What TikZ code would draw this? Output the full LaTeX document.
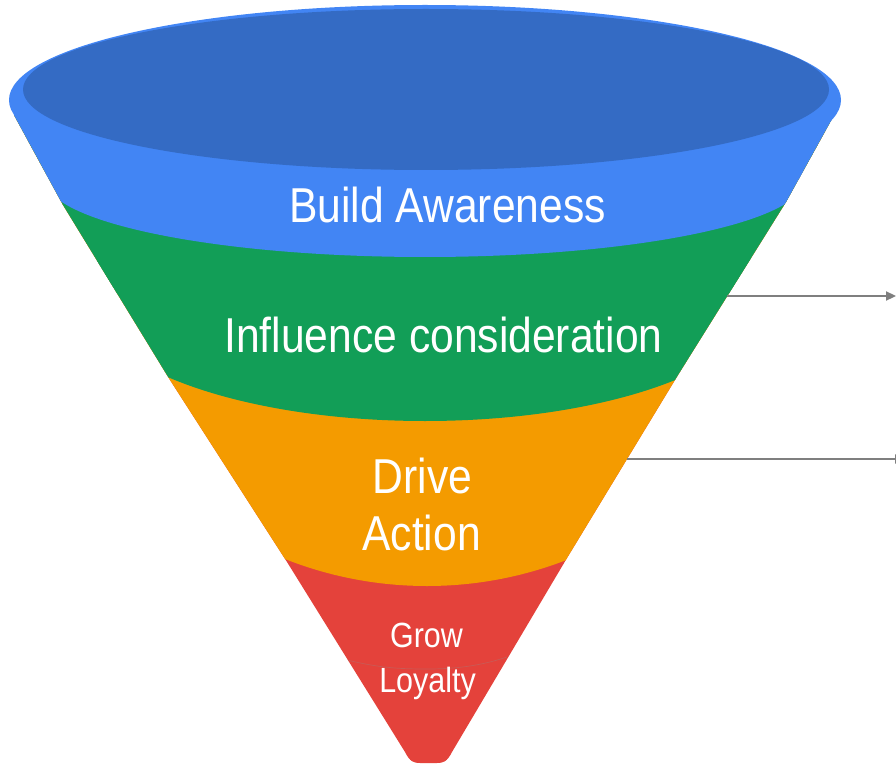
\documentclass[tikz,border=0pt]{standalone}
\usepackage{fontspec}
\newfontfamily\funfont[FakeStretch=0.87]{Liberation Sans}
\usetikzlibrary{arrows.meta}
\definecolor{gblue}{HTML}{4285F4}
\definecolor{gdark}{HTML}{346BC4}
\definecolor{ggreen}{HTML}{129E57}
\definecolor{gorange}{HTML}{F49B00}
\definecolor{gred}{HTML}{E4423B}
\definecolor{arrgray}{HTML}{7F7F7F}
\definecolor{seamc}{HTML}{C95A55}
\tikzset{
  biglbl/.style={text=white, inner sep=0pt, anchor=base, font=\funfont\fontsize{49}{55}\selectfont},
  smalllbl/.style={text=white, inner sep=0pt, anchor=base, font=\funfont\fontsize{35}{40}\selectfont},
  pointer/.style={draw=arrgray, line width=2.2pt, -{Triangle[length=10pt,width=9pt]}},
  seam/.style={draw=seamc, line width=0.7pt}
}
\begin{document}
\begin{tikzpicture}[x=1pt,y=-1pt]
\useasboundingbox (0,0) rectangle (896,767);
% funnel body, bands from bottom to top
\begin{scope}
  \clip (14,115) -- (63,205) -- (170,380) -- (287,562) -- (405,752)
    .. controls (410,762) and (414,763) .. (420,763) -- (437,763)
    .. controls (443,763) and (447,762) .. (452,752)
    -- (567,558) -- (678,375) -- (786,202) -- (833,117) -- (833,106) -- (14,106) -- cycle;
  \fill[gred] (0,0) rectangle (896,767);
  \fill[gorange] (0,0) rectangle (896,170);
  \fill[gorange] (427,170) ellipse [x radius=400, y radius=416];
  \fill[ggreen] (0,0) rectangle (896,294);
  \fill[ggreen] (425,294) ellipse [x radius=340, y radius=127];
  \fill[gblue] (0,0) rectangle (896,179);
  \fill[gblue] (425,179) ellipse [x radius=380, y radius=78];
  \draw[seam] (347,660) .. controls (380,668) and (400,669) .. (427,669)
    .. controls (455,669) and (480,666) .. (507,657);
\end{scope}
% top opening
\fill[gblue] (425,100) ellipse [x radius=416, y radius=95];
\fill[gdark] (426,89.5) ellipse [x radius=403, y radius=80.5];
% labels
\node[biglbl] (aware) at (447.5,223) {Build Awareness};
\node[biglbl] (infl) at (443.5,352) {Influence consideration};
\node[biglbl] (drive) at (422.5,493) {Drive};
\node[biglbl] (action) at (421.5,550) {Action};
\node[smalllbl] (grow) at (426.5,647) {Grow};
\node[smalllbl] (loyal) at (427.5,692) {Loyalty};
% pointers
\coordinate (p1s) at (727,296);
\coordinate (p1e) at (896,296);
\coordinate (p2s) at (627,459);
\coordinate (p2e) at (905,459);
\draw[pointer] (p1s) -- (p1e);
\draw[pointer] (p2s) -- (p2e);
\end{tikzpicture}
\end{document}
